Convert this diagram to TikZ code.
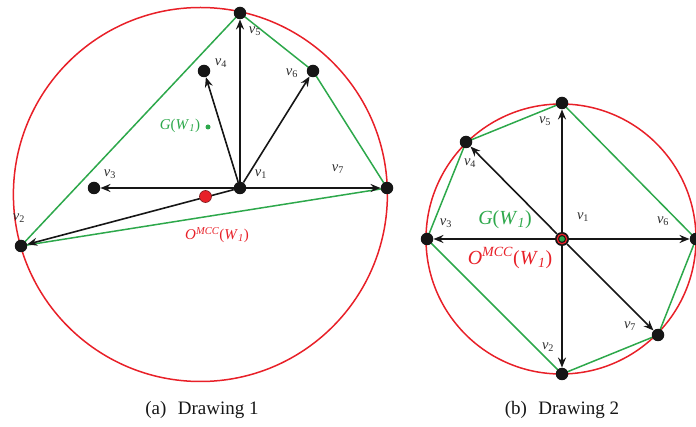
\documentclass[tikz,border=0pt]{standalone}
\usepackage{fontspec}
\setmainfont{Liberation Serif}
\usetikzlibrary{arrows.meta}
\definecolor{cred}{RGB}{232,32,40}
\definecolor{cgreen}{RGB}{45,168,75}
\definecolor{cblack}{RGB}{22,22,22}
\definecolor{ctext}{RGB}{45,45,45}
\newcommand{\vlab}[1]{\textit{v}\textsubscript{#1}}
\newcommand{\glab}{\textit{G}(\textit{W}\textsubscript{\textit{1}})}
\newcommand{\olab}{\textit{O}\textsuperscript{\textit{MCC}}(\textit{W}\textsubscript{\textit{1}})}
\begin{document}
\begin{tikzpicture}[x=1pt,y=-1pt,
  vertex/.style={circle,fill=cblack,inner sep=0pt,minimum size=12.5pt},
  arr/.style={-{Stealth[length=10pt,width=8pt]},line width=1.6pt,draw=cblack},
  hull/.style={draw=cgreen,line width=1.5pt},
  mcc/.style={draw=cred,line width=1.5pt},
  vlabel/.style={font=\fontsize{14.5}{14.5}\selectfont,text=ctext,inner sep=0pt},
  glabA/.style={font=\fontsize{15}{15}\selectfont,text=cgreen,inner sep=0pt},
  olabA/.style={font=\fontsize{15}{15}\selectfont,text=cred,inner sep=0pt},
  glabB/.style={font=\fontsize{20}{20}\selectfont,text=cgreen,inner sep=0pt},
  olabB/.style={font=\fontsize{20}{20}\selectfont,text=cred,inner sep=0pt},
  caption/.style={font=\fontsize{19}{19}\selectfont,text=cblack,inner sep=0pt}]
\useasboundingbox (0,0) rectangle (696,427);

% ---------------- Drawing 1 ----------------
\draw[mcc] (200.4,194.5) circle [radius=187pt];
\coordinate (a1) at (240,188);
\coordinate (a2) at (21,246);
\coordinate (a3) at (94,188);
\coordinate (a4) at (204,71);
\coordinate (a5) at (240,13);
\coordinate (a6) at (313,71);
\coordinate (a7) at (387,188);
\draw[hull] (a2) -- (a5) -- (a6) -- (a7) -- cycle;
\node[vertex] (A1) at (a1) {};
\node[vertex] (A2) at (a2) {};
\node[vertex] (A3) at (a3) {};
\node[vertex] (A4) at (a4) {};
\node[vertex] (A5) at (a5) {};
\node[vertex] (A6) at (a6) {};
\node[vertex] (A7) at (a7) {};
\foreach \t in {A2,A3,A4,A5,A6,A7} \draw[arr] (A1) -- (\t);
\node[circle,fill=cred,draw=cblack!50!cred,line width=0.6pt,inner sep=0pt,minimum size=12pt] (OA) at (205.5,196.5) {};
\node[circle,fill=cgreen,inner sep=0pt,minimum size=5pt] (GA) at (208,127) {};
\node[vlabel] (LA1) at (261,174) {\vlab{1}};
\node[vlabel] (LA2) at (19,218) {\vlab{2}};
\node[vlabel] (LA3) at (110,174) {\vlab{3}};
\node[vlabel] (LA4) at (221,63) {\vlab{4}};
\node[vlabel] (LA5) at (255,31) {\vlab{5}};
\node[vlabel] (LA6) at (292,73) {\vlab{6}};
\node[vlabel] (LA7) at (338,169) {\vlab{7}};
\node[glabA] (TGA) at (180,126) {\glab};
\node[olabA] (TOA) at (217,235) {\olab};
\node[caption] (CA) at (202,410) {(a)\hspace{0.6em}Drawing 1};

% ---------------- Drawing 2 ----------------
\draw[mcc] (561,239) circle [radius=135pt];
\coordinate (b1) at (562,239);
\coordinate (b2) at (562,374);
\coordinate (b3) at (427,239);
\coordinate (b4) at (466,142);
\coordinate (b5) at (562,103);
\coordinate (b6) at (696,239);
\coordinate (b7) at (658,335);
\draw[hull] (b5) -- (b4) -- (b3) -- (b2) -- (b7) -- (b6) -- cycle;
\node[vertex,minimum size=14pt] (B1) at (b1) {};
\node[vertex] (B2) at (b2) {};
\node[vertex] (B3) at (b3) {};
\node[vertex] (B4) at (b4) {};
\node[vertex] (B5) at (b5) {};
\node[vertex] (B6) at (b6) {};
\node[vertex] (B7) at (b7) {};
\foreach \t in {B2,B3,B4,B5,B6,B7} \draw[arr] (B1) -- (\t);
\node[circle,draw=cred,line width=1.2pt,fill=cblack,inner sep=0pt,minimum size=9.5pt] (OB) at (b1) {};
\node[circle,fill=cgreen,inner sep=0pt,minimum size=5.5pt] (GB) at (b1) {};
\node[vlabel] (LB1) at (583,217) {\vlab{1}};
\node[vlabel] (LB2) at (548,347) {\vlab{2}};
\node[vlabel] (LB3) at (446,223) {\vlab{3}};
\node[vlabel] (LB4) at (470,163) {\vlab{4}};
\node[vlabel] (LB5) at (545,121) {\vlab{5}};
\node[vlabel] (LB6) at (663,221) {\vlab{6}};
\node[vlabel] (LB7) at (630,326) {\vlab{7}};
\node[glabB] (TGB) at (505,220) {\glab};
\node[olabB] (TOB) at (510,258) {\olab};
\node[caption] (CB) at (562,410) {(b)\hspace{0.6em}Drawing 2};
\end{tikzpicture}
\end{document}
